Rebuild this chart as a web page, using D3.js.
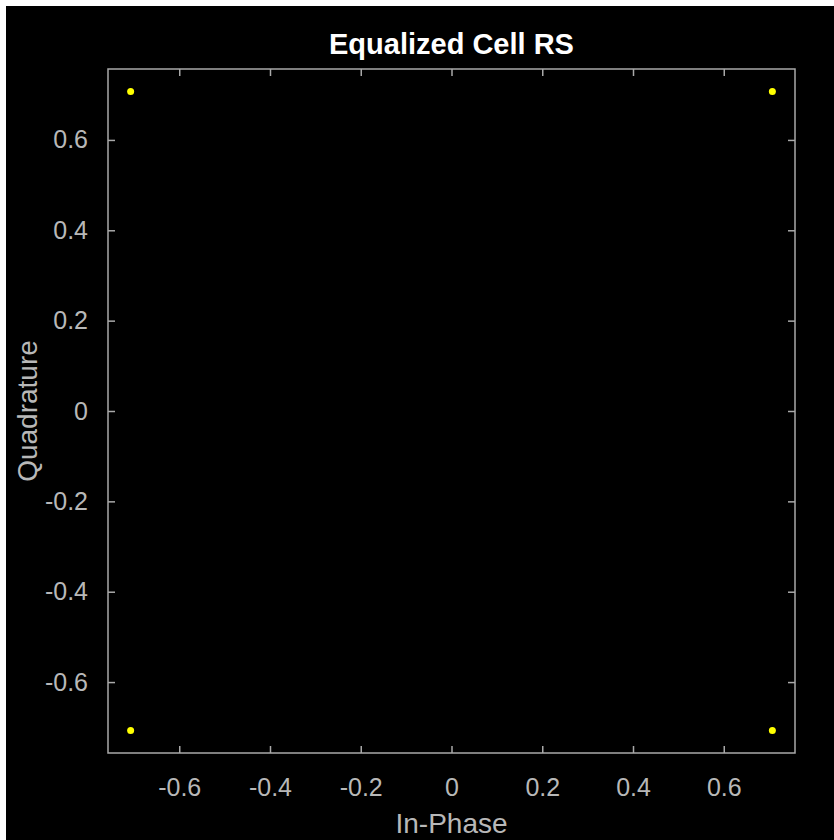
<!DOCTYPE html>
<html>
<head>
<meta charset="utf-8">
<script src="https://cdn.jsdelivr.net/npm/d3@7"></script>
<style>
  html, body { margin: 0; padding: 0; background: #ffffff; }
  svg { display: block; }
  text { font-family: "Liberation Sans", Arial, Helvetica, sans-serif; }
</style>
</head>
<body>
<svg id="chart" width="834" height="840"></svg>
<script>
// Equalized cell reference-signal constellation (QPSK)
const inPhase    = [-0.7071, 0.7071, -0.7071, 0.7071];
const quadrature = [ 0.7071, 0.7071, -0.7071, -0.7071];
const xTicks = [-0.6, -0.4, -0.2, 0, 0.2, 0.4, 0.6];
const yTicks = [-0.6, -0.4, -0.2, 0, 0.2, 0.4, 0.6];
const axisLimit = 0.757;

const W = 834, H = 840;
const margin = { left: 108, right: 39, top: 69, bottom: 87 };
const axisColor = "#a9a9a9";
const labelColor = "#b8b8b8";

const svg = d3.select("#chart");

// dark figure background
svg.append("rect")
  .attr("x", 6).attr("y", 6)
  .attr("width", W - 6).attr("height", H - 6)
  .attr("fill", "#000000");

const x = d3.scaleLinear().domain([-axisLimit, axisLimit])
  .range([margin.left, W - margin.right]);
const y = d3.scaleLinear().domain([-axisLimit, axisLimit])
  .range([H - margin.bottom, margin.top]);

const fmt = d => (d === 0 ? "0" : d3.format(".1f")(d)).replace("\u2212", "-");
const tickLen = 7;

function styleAxis(g, showLabels) {
  g.select(".domain").remove();
  g.selectAll(".tick line").attr("stroke", axisColor).attr("stroke-width", 1.5);
  g.selectAll(".tick text")
    .attr("fill", labelColor)
    .style("font-size", "25px")
    .style("display", showLabels ? null : "none");
}

// bottom axis with labels, ticks pointing inward
svg.append("g")
  .attr("transform", `translate(0,${y.range()[0]})`)
  .call(d3.axisBottom(x).tickValues(xTicks).tickFormat(fmt)
    .tickSizeInner(-tickLen).tickSizeOuter(0).tickPadding(25))
  .call(g => styleAxis(g, true));

// top mirror ticks
svg.append("g")
  .attr("transform", `translate(0,${y.range()[1]})`)
  .call(d3.axisTop(x).tickValues(xTicks).tickSizeInner(-tickLen).tickSizeOuter(0))
  .call(g => styleAxis(g, false));

// left axis with labels
svg.append("g")
  .attr("transform", `translate(${x.range()[0]},0)`)
  .call(d3.axisLeft(y).tickValues(yTicks).tickFormat(fmt)
    .tickSizeInner(-tickLen).tickSizeOuter(0).tickPadding(20))
  .call(g => styleAxis(g, true));

// right mirror ticks
svg.append("g")
  .attr("transform", `translate(${x.range()[1]},0)`)
  .call(d3.axisRight(y).tickValues(yTicks).tickSizeInner(-tickLen).tickSizeOuter(0))
  .call(g => styleAxis(g, false));

// axes box
svg.append("rect")
  .attr("x", x.range()[0]).attr("y", y.range()[1])
  .attr("width", x.range()[1] - x.range()[0])
  .attr("height", y.range()[0] - y.range()[1])
  .attr("fill", "none")
  .attr("stroke", axisColor)
  .attr("stroke-width", 1.5);

// constellation points
svg.append("g").selectAll("circle")
  .data(inPhase.map((v, i) => [v, quadrature[i]]))
  .join("circle")
  .attr("cx", d => x(d[0]))
  .attr("cy", d => y(d[1]))
  .attr("r", 3.5)
  .attr("fill", "#ffff00");

const cx = (x.range()[0] + x.range()[1]) / 2;
const cy = (y.range()[0] + y.range()[1]) / 2;

// title
svg.append("text")
  .attr("x", cx).attr("y", 54)
  .attr("text-anchor", "middle")
  .attr("fill", "#ffffff")
  .style("font-size", "29px")
  .style("font-weight", "bold")
  .text("Equalized Cell RS");

// x label
svg.append("text")
  .attr("x", cx).attr("y", 833)
  .attr("text-anchor", "middle")
  .attr("fill", labelColor)
  .style("font-size", "28px")
  .text("In-Phase");

// y label
svg.append("text")
  .attr("transform", `translate(37,${cy}) rotate(-90)`)
  .attr("text-anchor", "middle")
  .attr("fill", labelColor)
  .style("font-size", "28px")
  .text("Quadrature");
</script>
</body>
</html>
